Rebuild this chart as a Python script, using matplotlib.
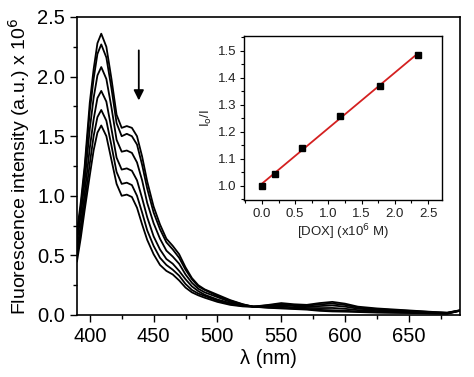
import numpy as np
import matplotlib
matplotlib.use("Agg")
import matplotlib.pyplot as plt
from matplotlib.ticker import MultipleLocator

plt.rcParams['font.family'] = ['Liberation Sans', 'DejaVu Sans']

# ---------------- data ----------------
wavelength = [390, 393, 396, 400, 403, 406, 409, 413, 417, 421, 425, 429, 433, 437,
              441, 445, 450, 455, 460, 465, 470, 475, 480, 485, 490, 500, 510, 520,
              528, 540, 550, 560, 570, 580, 590, 600, 610, 625, 640, 655, 670, 680, 690]

spec_0 = [0.70, 0.95, 1.25, 1.78, 2.06, 2.28, 2.36, 2.25, 1.98, 1.68, 1.57, 1.585, 1.57, 1.50,
          1.33, 1.12, 0.91, 0.76, 0.64, 0.58, 0.51, 0.40, 0.31, 0.25, 0.215, 0.17, 0.125, 0.09,
          0.07, 0.06, 0.055, 0.05, 0.045, 0.035, 0.03, 0.028, 0.025, 0.02, 0.018, 0.016, 0.012, 0.011, 0.035]
spec_1 = [0.67, 0.91, 1.21, 1.71, 1.98, 2.19, 2.27, 2.16, 1.90, 1.61, 1.50, 1.52, 1.50, 1.43,
          1.26, 1.06, 0.86, 0.72, 0.61, 0.55, 0.48, 0.38, 0.30, 0.24, 0.21, 0.16, 0.12, 0.088,
          0.07, 0.063, 0.06, 0.055, 0.05, 0.043, 0.04, 0.036, 0.03, 0.024, 0.021, 0.018, 0.014, 0.012, 0.036]
spec_2 = [0.61, 0.84, 1.12, 1.56, 1.82, 2.01, 2.08, 1.98, 1.74, 1.47, 1.37, 1.38, 1.36, 1.28,
          1.13, 0.94, 0.77, 0.64, 0.54, 0.49, 0.43, 0.34, 0.27, 0.22, 0.19, 0.15, 0.11, 0.084,
          0.07, 0.069, 0.071, 0.064, 0.059, 0.058, 0.059, 0.052, 0.041, 0.033, 0.028, 0.023, 0.017, 0.014, 0.037]
spec_3 = [0.55, 0.76, 1.02, 1.40, 1.64, 1.82, 1.88, 1.79, 1.56, 1.32, 1.22, 1.23, 1.21, 1.13,
          0.98, 0.82, 0.66, 0.55, 0.47, 0.43, 0.37, 0.30, 0.24, 0.20, 0.17, 0.13, 0.10, 0.079,
          0.07, 0.076, 0.083, 0.075, 0.07, 0.075, 0.08, 0.07, 0.053, 0.042, 0.035, 0.028, 0.02, 0.017, 0.038]
spec_4 = [0.49, 0.70, 0.94, 1.27, 1.50, 1.66, 1.72, 1.63, 1.42, 1.20, 1.10, 1.11, 1.09, 1.00,
          0.86, 0.71, 0.58, 0.48, 0.42, 0.38, 0.33, 0.26, 0.21, 0.18, 0.16, 0.12, 0.092, 0.075,
          0.07, 0.081, 0.092, 0.083, 0.078, 0.089, 0.096, 0.084, 0.062, 0.049, 0.04, 0.032, 0.023, 0.018, 0.039]
spec_5 = [0.45, 0.65, 0.88, 1.17, 1.38, 1.53, 1.59, 1.50, 1.30, 1.10, 1.00, 1.01, 0.99, 0.90,
          0.76, 0.63, 0.51, 0.42, 0.37, 0.34, 0.29, 0.23, 0.19, 0.165, 0.145, 0.11, 0.085, 0.072,
          0.07, 0.085, 0.10, 0.09, 0.085, 0.10, 0.11, 0.095, 0.07, 0.055, 0.045, 0.035, 0.025, 0.02, 0.04]
spectra = [spec_0, spec_1, spec_2, spec_3, spec_4, spec_5]

dox_conc = [0.0, 0.2, 0.6, 1.18, 1.77, 2.35]
i0_over_i = [1.00, 1.045, 1.14, 1.258, 1.37, 1.485]

main_xticks = [400, 450, 500, 550, 600, 650]
main_yticks = [0.0, 0.5, 1.0, 1.5, 2.0, 2.5]
inset_xticks = [0.0, 0.5, 1.0, 1.5, 2.0, 2.5]
inset_yticks = [1.0, 1.1, 1.2, 1.3, 1.4, 1.5]

# ---------------- figure ----------------
W, H = 474, 377
fig = plt.figure(figsize=(W / 100, H / 100), dpi=100)
ax = fig.add_axes([77 / W, 1 - 315 / H, (460 - 77) / W, (315 - 17) / H])

for s in spectra:
    ax.plot(wavelength, s, color='black', lw=1.3, solid_joinstyle='round')

ax.set_xlim(390, 690)
ax.set_ylim(0, 2.5)
ax.set_xticks(main_xticks)
ax.set_yticks(main_yticks)
ax.set_yticklabels([f"{v:.1f}" for v in main_yticks])
ax.xaxis.set_minor_locator(MultipleLocator(25))
ax.yaxis.set_minor_locator(MultipleLocator(0.25))
ax.tick_params(axis='both', which='both', direction='out', top=False, right=False,
               labelsize=14.5, width=1.0, color='black')
ax.tick_params(which='major', length=5)
ax.tick_params(which='minor', length=3)
for sp in ax.spines.values():
    sp.set_linewidth(1.2)
ax.set_xlabel('λ (nm)', fontsize=14.5, labelpad=2)
ax.set_ylabel('Fluorescence intensity (a.u.) x 10$^6$', fontsize=14, labelpad=4)

ax.annotate('', xy=(438.4, 1.80), xytext=(438.4, 2.22),
            arrowprops=dict(arrowstyle='-|>,head_length=0.6,head_width=0.3',
                            color='black', lw=1.3, shrinkA=0, shrinkB=0))

# ---------------- inset ----------------
ins = fig.add_axes([244 / W, 1 - 200 / H, (442 - 244) / W, (200 - 36) / H])
fit = np.polyfit(dox_conc, i0_over_i, 1)
xf = np.array([dox_conc[0], dox_conc[-1]])
ins.plot(xf, np.polyval(fit, xf), color='#d42020', lw=1.3, zorder=2)
ins.plot(dox_conc, i0_over_i, 's', color='black', ms=4, zorder=3)
ins.set_xlim(-0.27, 2.71)
ins.set_ylim(0.947, 1.554)
ins.set_xticks(inset_xticks)
ins.set_yticks(inset_yticks)
ins.set_xticklabels([f"{v:.1f}" for v in inset_xticks])
ins.set_yticklabels([f"{v:.1f}" for v in inset_yticks])
ins.xaxis.set_minor_locator(MultipleLocator(0.25))
ins.yaxis.set_minor_locator(MultipleLocator(0.05))
ins.tick_params(axis='both', which='both', direction='out', top=False, right=False,
                labelsize=9.5, width=0.8, labelcolor='#222222')
ins.tick_params(which='major', length=3, pad=2.5)
ins.tick_params(which='minor', length=2)
for sp in ins.spines.values():
    sp.set_linewidth(1.0)
ins.set_xlabel('[DOX] (x10$^6$ M)', fontsize=9.5, labelpad=2, color='#222222')
ins.set_ylabel('I$_\\mathrm{o}$/I', fontsize=9.5, labelpad=3, color='#222222')

fig.savefig('out.png', dpi=100)
